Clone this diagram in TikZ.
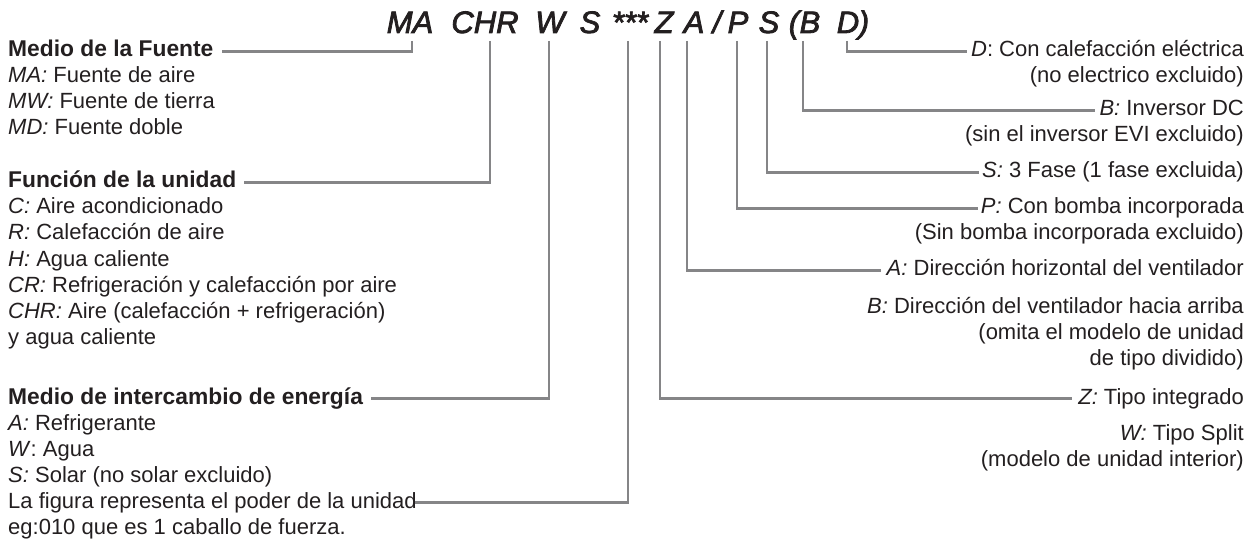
\documentclass[tikz,border=0pt]{standalone}
\usepackage{fontspec}
\setmainfont{Liberation Sans}
\newfontfamily\ttlfont[FakeBold=2.5,ItalicFeatures={FakeBold=2.5}]{Liberation Sans}
\definecolor{txt}{HTML}{231F20}
\definecolor{ln}{HTML}{858587}
\begin{document}
\begin{tikzpicture}[x=1pt,y=-1pt,
  lab/.style={inner sep=0pt, text height=16pt, text depth=5pt, font=\fontsize{22}{26}\selectfont, text=txt},
  ll/.style={lab, anchor=base west},
  bl/.style={ll, font=\fontsize{22.8}{26}\selectfont\bfseries},
  rl/.style={lab, anchor=base east},
  ttl/.style={inner sep=0pt, anchor=base, font=\fontsize{31}{36}\selectfont\ttlfont\itshape, text=txt},
  conn/.style={draw=ln, line width=2.1pt}]
\useasboundingbox (0,0) rectangle (1256,548);

% title
\node[ttl] (tMA) at (410,33) {MA};
\node[ttl] (tCHR) at (485,33) {CHR};
\node[ttl] (tW) at (550,33) {W};
\node[ttl] (tS) at (590,33) {S};
\node[ttl] (tAst) at (630,33) {***};
\node[ttl] (tZ) at (664,33) {Z};
\node[ttl] (tA) at (694,33) {A};
\node[ttl] (tSl) at (717,33) {/};
\node[ttl] (tP) at (738,33) {P};
\node[ttl] (tS2) at (769,33) {S};
\node[ttl] (tPo) at (794,33) {(};
\node[ttl] (tB) at (810,33) {B};
\node[ttl] (tD) at (848,33) {D};
\node[ttl] (tPc) at (864,33) {)};

% tick starts
\coordinate (kMA) at (412,41);
\coordinate (kCHR) at (490,41);
\coordinate (kW) at (549,41);
\coordinate (kAst) at (628,41);
\coordinate (kZ) at (660,41);
\coordinate (kA) at (687,41);
\coordinate (kP) at (737,41);
\coordinate (kS) at (767,41);
\coordinate (kB) at (803,41);
\coordinate (kD) at (847,41);

% left labels
\node[bl] (lFuente) at (8,57) {Medio de la Fuente};
\node[ll] (lMA) at (8,83) {\textit{MA:} Fuente de aire};
\node[ll] (lMW) at (8,109) {\textit{MW:} Fuente de tierra};
\node[ll] (lMD) at (8,135) {\textit{MD:} Fuente doble};

\node[bl] (lFun) at (8,188) {Función de la unidad};
\node[ll] (lC) at (8,214) {\textit{C:} Aire acondicionado};
\node[ll] (lR) at (8,240) {\textit{R:} Calefacción de aire};
\node[ll] (lH) at (8,266) {\textit{H:} Agua caliente};
\node[ll] (lCR) at (8,292) {\textit{CR:} Refrigeración y calefacción por aire};
\node[ll] (lCHR) at (8,318) {\textit{CHR:} Aire (calefacción + refrigeración)};
\node[ll] (lyag) at (8,344) {y agua caliente};

\node[bl] (lMed) at (8,404) {Medio de intercambio de energía};
\node[ll] (lA) at (8,430) {\textit{A:} Refrigerante};
\node[ll] (lW) at (8,456) {\textit{W}: Agua};
\node[ll] (lS) at (8,482) {\textit{S:} Solar (no solar excluido)};
\node[ll] (lFig) at (8,508) {La figura representa el poder de la unidad};
\node[ll] (leg) at (8,534) {eg:010 que es 1 caballo de fuerza.};

% right labels
\node[rl] (rD) at (1244,57) {\textit{D}: Con calefacción eléctrica};
\node[rl] (rD2) at (1244,83) {(no electrico excluido)};
\node[rl] (rB) at (1244,116) {\textit{B:} Inversor DC};
\node[rl] (rB2) at (1244,142) {(sin el inversor EVI excluido)};
\node[rl] (rS) at (1244,178) {\textit{S:} 3 Fase (1 fase excluida)};
\node[rl] (rP) at (1244,214) {\textit{P:} Con bomba incorporada};
\node[rl] (rP2) at (1244,240) {(Sin bomba incorporada excluido)};
\node[rl] (rA) at (1244,276) {\textit{A:} Dirección horizontal del ventilador};
\node[rl] (rBd) at (1244,313) {\textit{B:} Dirección del ventilador hacia arriba};
\node[rl] (rBd2) at (1244,339) {(omita el modelo de unidad};
\node[rl] (rBd3) at (1244,365) {de tipo dividido)};
\node[rl] (rZ) at (1244,404) {\textit{Z:} Tipo integrado};
\node[rl] (rWs) at (1244,440) {\textit{W:} Tipo Split};
\node[rl] (rWs2) at (1244,466) {(modelo de unidad interior)};

% connectors
\draw[conn] (kMA) |- ([xshift=8pt]lFuente.east);
\draw[conn] (kCHR) |- ([xshift=8pt]lFun.east);
\draw[conn] (kW) |- ([xshift=8pt]lMed.east);
\draw[conn] (kAst) |- ([xshift=-2pt]lFig.east);
\draw[conn] (kD) |- ([xshift=-4pt]rD.west);
\draw[conn] (kB) |- ([xshift=-4pt]rB.west);
\draw[conn] (kS) |- ([xshift=-3pt]rS.west);
\draw[conn] (kP) |- ([xshift=-3pt]rP.west);
\draw[conn] (kA) |- ([xshift=-6pt]rA.west);
\draw[conn] (kZ) |- ([xshift=-6pt]rZ.west);
\end{tikzpicture}
\end{document}
